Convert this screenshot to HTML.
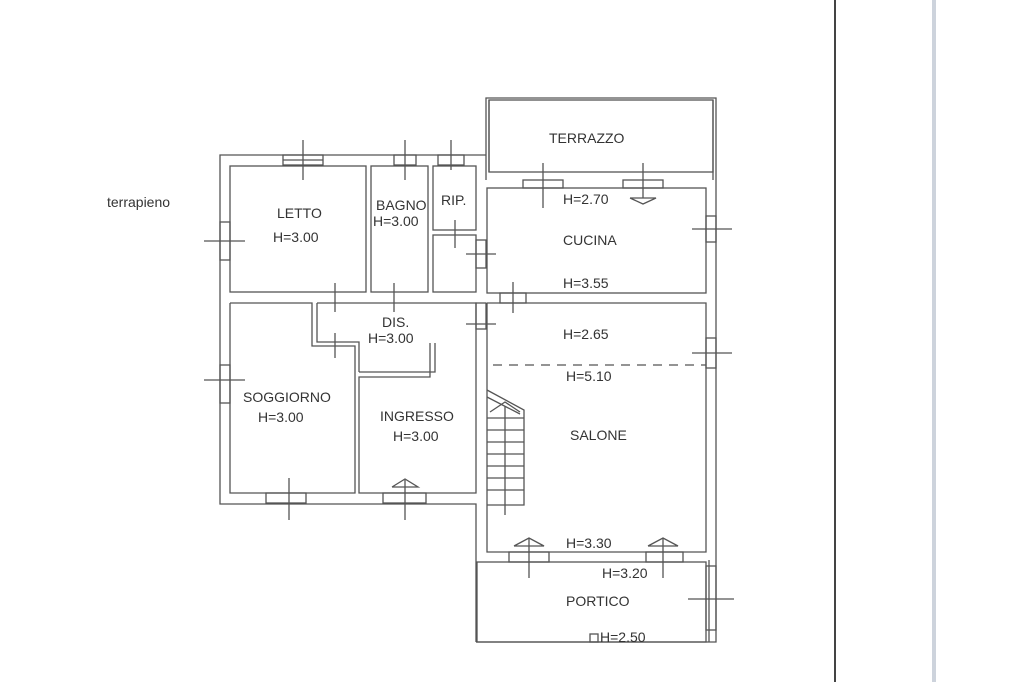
<!DOCTYPE html>
<html><head><meta charset="utf-8"><style>
html,body{margin:0;padding:0;background:#fff;}
svg{display:block}
text{font-family:"Liberation Sans",sans-serif;fill:#333;font-size:14px}
</style></head><body>
<svg width="1024" height="682" viewBox="0 0 1024 682" xmlns="http://www.w3.org/2000/svg">
<rect x="0" y="0" width="1024" height="682" fill="#fff"/>
<line x1="835" y1="0" x2="835" y2="682" stroke="#444" stroke-width="2"/>
<rect x="932" y="0" width="4" height="682" fill="#cdd3dc"/>
<text x="107" y="207" font-size="13">terrapieno</text>
<g fill="none" stroke="#555" stroke-width="1.3">
<!-- left building outer -->
<polyline points="486,155 220,155 220,504 476,504 476,642"/>
<!-- terrazzo -->
<polyline points="486,180 486,98 716,98 716,642 476,642"/>
<line x1="489" y1="100" x2="489" y2="172"/>
<line x1="713" y1="100" x2="713" y2="180"/>
<rect x="489" y="100" width="224" height="72"/>
<!-- rooms -->
<rect x="230" y="166" width="136" height="126"/>
<rect x="371" y="166" width="57" height="126"/>
<rect x="433" y="166" width="43" height="64"/>
<rect x="433" y="235" width="43" height="57"/>
<rect x="487" y="188" width="219" height="105"/>
<polyline points="487,303 706,303 706,552 487,552 487,303"/>
<rect x="477" y="562" width="229" height="80"/>
<line x1="709" y1="560" x2="709" y2="642"/>
<!-- soggiorno -->
<polyline points="230,303 312,303 312,346 355,346 355,493 230,493 230,303"/>
<!-- dis / ingresso -->
<polyline points="317,303 476,303 476,493 359,493 359,377 430,377 430,343"/>
<polyline points="435,343 435,372 359,372"/>
<polyline points="317,303 317,342 359,342 359,372"/>
<!-- stairs -->
<polyline points="487,390 524,410 524,505 487,505"/>
<polyline points="487,397 520,414"/>
<line x1="487" y1="418" x2="524" y2="418"/>
<line x1="487" y1="430" x2="524" y2="430"/>
<line x1="487" y1="442" x2="524" y2="442"/>
<line x1="487" y1="454" x2="524" y2="454"/>
<line x1="487" y1="466" x2="524" y2="466"/>
<line x1="487" y1="478" x2="524" y2="478"/>
<line x1="487" y1="490" x2="524" y2="490"/>
<line x1="505" y1="406" x2="505" y2="515"/>
<polyline points="490,412 505,402 520,412"/>
<!-- dashed -->
<line x1="493" y1="365" x2="706" y2="365" stroke-dasharray="9,7"/>
<!-- windows (rect + cross) -->
<rect x="283" y="155" width="40" height="10"/><line x1="303" y1="140" x2="303" y2="180"/><line x1="283" y1="160" x2="323" y2="160"/>
<rect x="394" y="155" width="22" height="10"/><line x1="405" y1="140" x2="405" y2="180"/>
<rect x="438" y="155" width="26" height="10"/><line x1="451" y1="140" x2="451" y2="170"/>
<rect x="220" y="222" width="10" height="38"/><line x1="204" y1="241" x2="245" y2="241"/>
<rect x="220" y="365" width="10" height="38"/><line x1="204" y1="380" x2="245" y2="380"/>
<rect x="266" y="493" width="40" height="10"/><line x1="289" y1="478" x2="289" y2="520"/>
<rect x="383" y="493" width="43" height="10"/><line x1="405" y1="480" x2="405" y2="520"/>
<polyline points="392,487 405,479 418,487 392,487"/>
<line x1="455" y1="220" x2="455" y2="248"/>
<rect x="476" y="240" width="10" height="28"/><line x1="466" y1="254" x2="496" y2="254"/>
<line x1="335" y1="283" x2="335" y2="312"/><line x1="394" y1="283" x2="394" y2="312"/>
<line x1="335" y1="333" x2="335" y2="358"/>
<rect x="476" y="303" width="10" height="26"/><line x1="466" y1="324" x2="496" y2="324"/>
<rect x="500" y="293" width="26" height="10"/><line x1="513" y1="282" x2="513" y2="313"/>
<rect x="523" y="180" width="40" height="8"/><line x1="543" y1="163" x2="543" y2="208"/>
<rect x="623" y="180" width="40" height="8"/><line x1="643" y1="163" x2="643" y2="198"/>
<polyline points="630,198 643,204 656,198 630,198"/>
<rect x="706" y="216" width="10" height="26"/><line x1="692" y1="229" x2="732" y2="229"/>
<rect x="706" y="338" width="10" height="30"/><line x1="692" y1="353" x2="732" y2="353"/>
<rect x="509" y="552" width="40" height="10"/><line x1="529" y1="538" x2="529" y2="578"/>
<polyline points="514,546 529,538 544,546 514,546"/>
<rect x="646" y="552" width="37" height="10"/><line x1="663" y1="538" x2="663" y2="578"/>
<polyline points="648,546 663,538 678,546 648,546"/>
<rect x="706" y="566" width="10" height="64"/><line x1="688" y1="599" x2="734" y2="599"/>
<rect x="590" y="634" width="8" height="8"/>
</g>
<text x="277" y="218">LETTO</text>
<text x="273" y="242">H=3.00</text>
<text x="376" y="210" font-size="12">BAGNO</text>
<text x="373" y="226">H=3.00</text>
<text x="441" y="205">RIP.</text>
<text x="382" y="327">DIS.</text>
<text x="368" y="343">H=3.00</text>
<text x="243" y="402">SOGGIORNO</text>
<text x="258" y="422">H=3.00</text>
<text x="380" y="421">INGRESSO</text>
<text x="393" y="441">H=3.00</text>
<text x="549" y="143">TERRAZZO</text>
<text x="563" y="204">H=2.70</text>
<text x="563" y="245">CUCINA</text>
<text x="563" y="288">H=3.55</text>
<text x="563" y="339">H=2.65</text>
<text x="566" y="381">H=5.10</text>
<text x="570" y="440">SALONE</text>
<text x="566" y="548">H=3.30</text>
<text x="602" y="578">H=3.20</text>
<text x="566" y="606">PORTICO</text>
<text x="600" y="642">H=2.50</text>
</svg>
</body></html>
